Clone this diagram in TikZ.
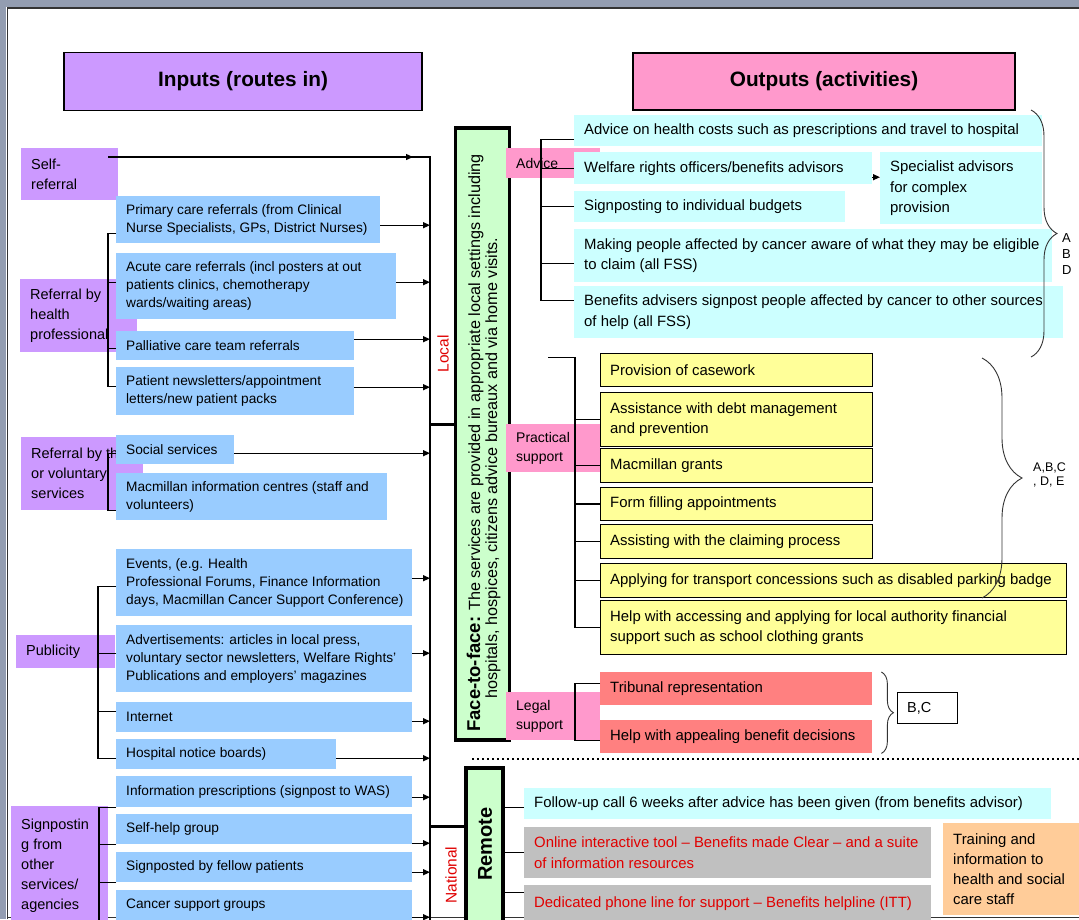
\documentclass[tikz,border=0pt]{standalone}
\usepackage{fontspec}
\setmainfont{Liberation Sans}
\usetikzlibrary{arrows.meta,decorations.pathreplacing,calc}

\definecolor{cpurple}{HTML}{CC99FF}
\definecolor{cpink}{HTML}{FF99CC}
\definecolor{cblue}{HTML}{99CCFF}
\definecolor{ccyan}{HTML}{CCFFFF}
\definecolor{cyellow}{HTML}{FFFF99}
\definecolor{csalmon}{HTML}{FF8080}
\definecolor{cgray}{HTML}{C0C0C0}
\definecolor{corange}{HTML}{FFCC99}
\definecolor{cgreen}{HTML}{CCFFCC}
\definecolor{cred}{HTML}{E00000}
\definecolor{cframe}{HTML}{939DB1}

% [text opts]{style}{name}{x1}{y1}{x2}{y2}{text}
\newcommand\tbox[8][]{%
  \pgfmathsetmacro\bxw{#6-#4}%
  \pgfmathsetmacro\bxh{#7-#5}%
  \node[#2, anchor=north west, minimum width=\bxw pt, minimum height=\bxh pt, inner sep=0pt] (#3) at (#4,#5) {};%
  \node[txt, #2t, #1, anchor=west] (#3t) at ([xshift=10pt]#3.west) {#8};%
}

\begin{document}
\begin{tikzpicture}[x=1pt,y=-1pt,
  txt/.style={inner sep=0pt, align=left, font=\fontsize{14}{19}\selectfont},
  pur/.style={fill=cpurple},   purt/.style={font=\fontsize{14.5}{20}\selectfont},
  pnk/.style={fill=cpink},     pnkt/.style={font=\fontsize{14}{19}\selectfont},
  blu/.style={fill=cblue},     blut/.style={font=\fontsize{13.7}{18}\selectfont},
  cyn/.style={fill=ccyan},     cynt/.style={font=\fontsize{14.9}{20.5}\selectfont},
  yel/.style={fill=cyellow, draw=black, line width=0.9pt}, yelt/.style={font=\fontsize{14.9}{20.5}\selectfont},
  sal/.style={fill=csalmon},   salt/.style={font=\fontsize{14.9}{20.5}\selectfont},
  gry/.style={fill=cgray},     gryt/.style={font=\fontsize{14.9}{20.5}\selectfont, text=cred},
  org/.style={fill=corange},   orgt/.style={font=\fontsize{14.9}{20}\selectfont},
  wht/.style={fill=white, draw=black, line width=1pt}, whtt/.style={font=\fontsize{14.5}{19}\selectfont},
  hdr/.style={draw=black, line width=1.1pt, font=\bfseries\fontsize{20.8}{24}\selectfont},
  gbox/.style={draw=black, line width=3.5pt, fill=cgreen},
  ln/.style={line width=1.3pt, black},
  lnk/.style={line width=3pt, black},
  arr/.style={line width=1.3pt, black, -{Triangle[length=7pt,width=6pt]}},
  brc/.style={decorate, line width=0.9pt, black!80},
  lbl/.style={inner sep=0pt, align=left, font=\fontsize{13}{16}\selectfont},
  rtxt/.style={rotate=90, inner sep=0pt, text=cred, font=\fontsize{15.5}{17}\selectfont}
]
\useasboundingbox (0,0) rectangle (1079,919);
\fill[white] (0,0) rectangle (1079,919);
\fill[cframe] (0,0) rectangle (1079,7);
\fill[cframe] (0,0) rectangle (6,919);
\draw[line width=1.2pt, black!80] (7.5,919) -- (7.5,8) -- (1079,8);
\draw[line width=1.6pt, black!80] (7,917.5) -- (1079,917.5);

% headers
\node[hdr, fill=cpurple, minimum width=358pt, minimum height=58pt] (inH) at (243,81.5) {Inputs (routes in)};
\node[hdr, fill=cpink, minimum width=382pt, minimum height=57pt] (outH) at (824,81.5) {Outputs (activities)};

% purple source boxes
\tbox{pur}{selfref}{21}{148}{118}{200}{Self-\\referral}
\tbox{pur}{hp}{20}{279}{137}{352}{Referral by\\health\\professional}
\tbox{pur}{vol}{21}{437}{143}{510}{Referral by \rlap{third}\\or voluntary\\services}
\tbox{pur}{pub}{16}{635}{115}{668}{Publicity}
\tbox{pur}{sign}{11}{806}{108}{925}{Signpostin\\g from\\other\\services/\\agencies}

% blue input boxes
\tbox{blu}{pc}{116}{196}{380}{243}{Primary care referrals (from Clinical\\Nurse Specialists, GPs, District Nurses)}
\tbox{blu}{acute}{116}{253}{396}{319}{Acute care referrals (incl posters at out\\patients clinics, chemotherapy\\wards/waiting areas)}
\tbox{blu}{pall}{116}{331}{354}{360}{Palliative care team referrals}
\tbox{blu}{news}{116}{367}{354}{415}{Patient newsletters/appointment\\letters/new patient packs}
\tbox{blu}{soc}{116}{435}{234}{464}{Social services}
\tbox{blu}{mac}{116}{473}{387}{520}{Macmillan information centres (staff and\\volunteers)}
\tbox{blu}{events}{116}{549}{412}{616}{Events, (e.g. Health\\Professional Forums, Finance Information\\days, Macmillan Cancer Support Conference)}
\tbox{blu}{adv}{116}{625}{412}{692}{Advertisements: articles in local press,\\voluntary sector newsletters, Welfare Rights'\\Publications and employers' magazines}
\tbox{blu}{inet}{116}{702}{412}{732}{Internet}
\tbox{blu}{hosp}{116}{739}{336}{769}{Hospital notice boards)}
\tbox{blu}{infop}{116}{776}{412}{807}{Information prescriptions (signpost to WAS)}
\tbox{blu}{selfh}{116}{814}{412}{844}{Self-help group}
\tbox{blu}{fellow}{116}{852}{412}{882}{Signposted by fellow patients}
\tbox{blu}{csg}{116}{890}{412}{920}{Cancer support groups}

% left brackets
\draw[ln] ([yshift=-13.5pt]pc.west) -- ++(-8,0) |- ([yshift=5pt]news.west);
\draw[ln] ([yshift=4pt]acute.west) -- ++(-8,0);
\draw[ln] ([yshift=-2.5pt]pall.west) -- ++(-8,0);
\draw[ln] ([yshift=-3.5pt]soc.west) -- ++(-8,0) |- ([yshift=-13.5pt]mac.west);
\draw[ln] ([yshift=-3.5pt]events.west) -- ++(-18,0) |- ([yshift=-4pt]hosp.west);
\draw[ln] ([yshift=5.5pt]adv.west) -- ++(-18,0);
\draw[ln] ([yshift=6pt]inet.west) -- ++(-18,0);
\draw[ln] (infop.south west) -- ++(-17,0) -- ++(0,130);
\draw[ln] (selfh.south west) -- ++(-17,0);
\draw[ln] (fellow.south west) -- ++(-17,0);

% collector
\coordinate (ctop) at (430,157);
\coordinate (cbot) at (430,925);
\draw[ln] ([xshift=-10pt,yshift=-9pt]selfref.north east) -- (ctop) -- (cbot);
\draw[arr] ([xshift=-10pt,yshift=-9pt]selfref.north east) -- ([xshift=-17pt]ctop);
\foreach \n/\s in {pc/-5.5, acute/4, pall/6.5, news/4, soc/-3.5, events/4.5, adv/5.5, inet/-4, hosp/-4, infop/-5.5, selfh/-14, fellow/-5, csg/-12}{
  \draw[arr] ([yshift=\s pt]\n.east) -- ([yshift=\s pt]\n.east -| ctop);
}

% face-to-face and remote
\node[gbox, minimum width=54pt, minimum height=612pt] (f2f) at (482.5,434) {};
\node[rotate=90, inner sep=0pt, font=\fontsize{16.2}{18}\selectfont] (f2ft) at (475,443)
  {{\bfseries\fontsize{18.5}{18}\selectfont Face-to-face:} The services are provided in appropriate local settings including};
\node[rotate=90, inner sep=0pt, font=\fontsize{16.2}{18}\selectfont] (f2fu) at (493,468)
  {hospitals, hospices, citizens advice bureaux and via home visits.};
\node[gbox, minimum width=37pt, minimum height=160pt] (rem) at (484.5,848) {};
\node[rotate=90, inner sep=0pt, font=\bfseries\fontsize{20}{22}\selectfont] (remt) at (485,844) {Remote};
\draw[lnk] ([yshift=10pt]f2f.west) -- ([yshift=10pt]f2f.west -| ctop);
\draw[lnk] ([yshift=22pt]rem.west) -- ([yshift=22pt]rem.west -| ctop);
\node[rtxt] (loc) at (443,354) {Local};
\node[rtxt] (nat) at (451,875) {National};

% dotted separator
\coordinate (dotA) at (472,759);
\coordinate (dotB) at (1079,759);
\draw[line width=2pt, dash pattern=on 2pt off 3pt] (dotA) -- (dotB);

% pink category boxes
\tbox{pnk}{advice}{506}{148}{600}{178}{Advice}
\tbox{pnk}{pract}{506}{424}{600}{472}{Practical\\support}
\tbox{pnk}{legal}{506}{692}{600}{740}{Legal\\support}

% advice outputs
\tbox{cyn}{health}{574}{115}{1042}{146}{Advice on health costs such as prescriptions and travel to hospital}
\tbox{cyn}{welf}{574}{152}{872}{184}{Welfare rights officers/benefits advisors}
\tbox{cyn}{spec}{880}{152}{1042}{224}{Specialist advisors\\for complex\\provision}
\tbox{cyn}{budg}{574}{191}{845}{222}{Signposting to individual budgets}
\tbox{cyn}{aware}{574}{229}{1052}{282}{Making people affected by cancer aware of what they may be eligible\\to claim (all FSS)}
\tbox{cyn}{signp}{574}{286}{1063}{338}{Benefits advisers signpost people affected by cancer to other sources\\of help (all FSS)}
\draw[ln] ([yshift=-8.5pt]health.west) -- ++(-33,0) |- ([yshift=12pt]signp.west);
\draw[ln] (welf.west) -- ++(-33,0);
\draw[ln] (budg.west) -- ++(-33,0);
\draw[ln] ([yshift=-7.5pt]aware.west) -- ++(-33,0);
\draw[arr] ([yshift=-9pt]welf.east) -- ([yshift=-9pt]welf.east -| spec.west);

% practical outputs
\tbox{yel}{case}{600}{353}{872}{386}{Provision of casework}
\tbox{yel}{debt}{600}{392}{872}{446}{Assistance with debt management\\and prevention}
\tbox{yel}{grant}{600}{448}{872}{482}{Macmillan grants}
\tbox{yel}{form}{600}{487}{872}{520}{Form filling appointments}
\tbox{yel}{claim}{600}{524}{872}{558}{Assisting with the claiming process}
\tbox{yel}{trans}{600}{563}{1066}{597}{Applying for transport concessions such as disabled parking badge}
\tbox{yel}{local}{600}{600}{1066}{654}{Help with accessing and applying for local authority financial\\support such as school clothing grants}
\draw[ln] ([xshift=-52pt,yshift=12.5pt]case.west) -- ++(27,0) |- (local.west);
\foreach \n in {debt,grant,form,claim,trans}{\draw[ln] (\n.west) -- ++(-25,0);}

% legal outputs
\tbox{sal}{trib}{600}{672}{872}{705}{Tribunal representation}
\tbox{sal}{appeal}{600}{720}{872}{753}{Help with appealing benefit decisions}
\draw[ln] ([yshift=5.5pt]trib.west) -- ++(-25,0) |- ([yshift=-3.5pt]appeal.west);
\tbox{wht}{bc}{897}{692}{957}{723}{B,C}

% braces
\coordinate (b1t) at (1031,110);
\coordinate (b1b) at (1031,357);
\draw[brc, decoration={brace, amplitude=26pt}] (b1t) -- (b1b);
\node[lbl, anchor=north west] (lab1) at (1062,233) {A\\B\\D};
\coordinate (b2t) at (982,358);
\coordinate (b2b) at (982,598);
\draw[brc, decoration={brace, amplitude=40pt}] (b2t) -- (b2b);
\node[lbl, anchor=north west, font=\fontsize{12.5}{14}\selectfont] (lab2) at (1033,463) {A,B,C\\, D, E};
\draw[brc, decoration={brace, amplitude=12pt}] ([xshift=9pt]trib.north east) -- ([xshift=9pt]appeal.south east);

% remote outputs
\tbox{cyn}{follow}{524}{788}{1051}{819}{Follow-up call 6 weeks after advice has been given (from benefits advisor)}
\tbox{gry}{online}{524}{827}{931}{878}{Online interactive tool -- Benefits made Clear -- and a suite\\of information resources}
\tbox{gry}{phone}{524}{885}{931}{922}{Dedicated phone line for support -- Benefits helpline (ITT)}
\tbox{org}{train}{943}{823}{1085}{915}{Training and\\information to\\health and social\\care staff}
\draw[ln] ([yshift=-3.5pt]follow.west) -- ([yshift=-3.5pt]follow.west -| rem.east);
\draw[ln] (online.west) -- (online.west -| rem.east);
\draw[ln] ([yshift=11.5pt]phone.west) -- ([yshift=11.5pt]phone.west -| rem.east);
\end{tikzpicture}
\end{document}
